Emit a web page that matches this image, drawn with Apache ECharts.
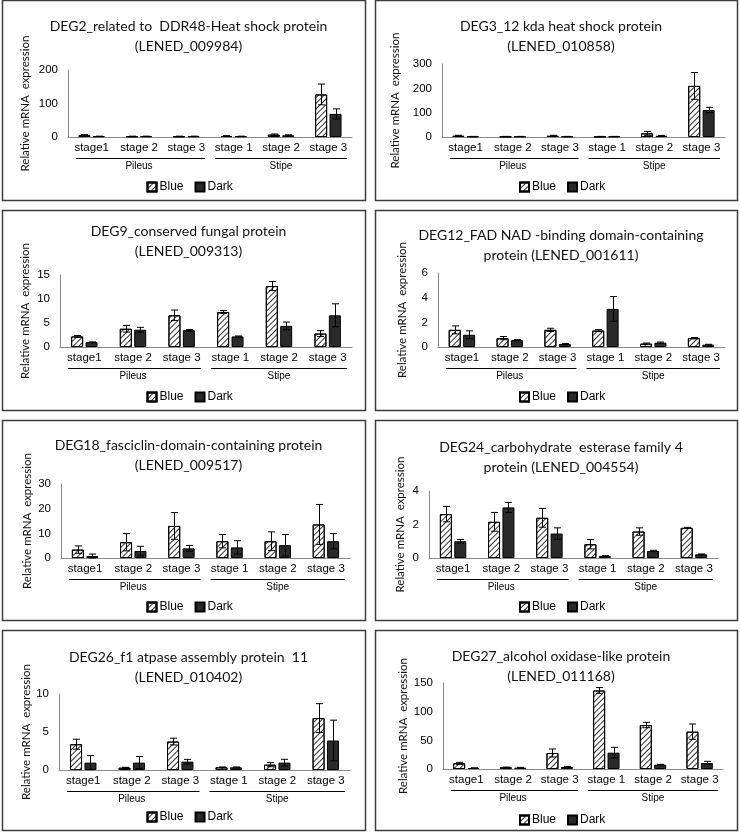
<!DOCTYPE html>
<html><head><meta charset="utf-8">
<script src="https://cdn.jsdelivr.net/npm/echarts@6/dist/echarts.min.js"></script>
<style>html,body{margin:0;padding:0;background:#fff}#c{width:740px;height:832px}</style>
</head><body><div id="c"></div>
<script>
// ---------- data ----------
const categories = ['stage1', 'stage 2', 'stage 3', 'stage 1', 'stage 2', 'stage 3'];
const groups = ['Pileus', 'Stipe'];
const seriesNames = ['Blue', 'Dark'];
const yLabel = 'Relative mRNA  expression';

const titles = [
  ['DEG2_related to  DDR48-Heat shock protein', '(LENED_009984)'],
  ['DEG3_12 kda heat shock protein', '(LENED_010858)'],
  ['DEG9_conserved fungal protein', '(LENED_009313)'],
  ['DEG12_FAD NAD -binding domain-containing', 'protein (LENED_001611)'],
  ['DEG18_fasciclin-domain-containing protein', '(LENED_009517)'],
  ['DEG24_carbohydrate  esterase family 4', 'protein (LENED_004554)'],
  ['DEG26_f1 atpase assembly protein  11', '(LENED_010402)'],
  ['DEG27_alcohol oxidase-like protein', '(LENED_011168)']
];
const yMax = [200, 300, 15, 6, 30, 4, 10, 150];
const yInterval = [100, 100, 5, 2, 10, 2, 5, 50];

const deg2Blue = [5, 2, 2, 3, 7, 127];
const deg2BlueErr = [2, 0.5, 0.5, 1, 2, 31];
const deg2Dark = [2, 2, 2, 2, 5, 69];
const deg2DarkErr = [0.5, 0.5, 0.5, 0.5, 1.5, 15];

const deg3Blue = [5, 2, 5, 2, 15, 210];
const deg3BlueErr = [2, 0.5, 2, 0.5, 8, 55];
const deg3Dark = [2, 2, 2, 2, 5, 111];
const deg3DarkErr = [0.5, 0.5, 0.5, 0.5, 1.5, 11];

const deg9Blue = [2.2, 3.8, 6.6, 7.3, 12.7, 2.8];
const deg9BlueErr = [0.2, 0.7, 1.1, 0.3, 0.95, 0.6];
const deg9Dark = [1.0, 3.6, 3.5, 2.2, 4.4, 6.6];
const deg9DarkErr = [0.05, 0.5, 0.15, 0.1, 0.8, 2.4];

const deg12Blue = [1.39, 0.72, 1.39, 1.33, 0.27, 0.72];
const deg12BlueErr = [0.32, 0.13, 0.13, 0.08, 0.05, 0.05];
const deg12Dark = [0.99, 0.56, 0.24, 3.09, 0.35, 0.19];
const deg12DarkErr = [0.32, 0.05, 0.05, 1.0, 0.05, 0.03];

const deg18Blue = [3.4, 6.4, 13.0, 6.8, 6.8, 13.6];
const deg18BlueErr = [1.5, 3.5, 5.4, 2.7, 3.8, 8.1];
const deg18Dark = [0.8, 2.85, 3.9, 4.3, 5.2, 6.8];
const deg18DarkErr = [0.8, 1.9, 1.2, 2.7, 4.3, 3.1];

const deg24Blue = [2.62, 2.16, 2.4, 0.82, 1.58, 1.8];
const deg24BlueErr = [0.46, 0.56, 0.56, 0.28, 0.22, 0.03];
const deg24Dark = [1.0, 3.02, 1.46, 0.12, 0.42, 0.22];
const deg24DarkErr = [0.1, 0.3, 0.34, 0.02, 0.04, 0.02];

const deg26Blue = [3.39, 0.3, 3.74, 0.35, 0.7, 6.83];
const deg26BlueErr = [0.66, 0.05, 0.44, 0.05, 0.27, 1.9];
const deg26Dark = [0.97, 0.97, 1.1, 0.35, 0.97, 3.88];
const deg26DarkErr = [0.92, 0.8, 0.3, 0.05, 0.44, 2.68];

const deg27Blue = [9.9, 2.9, 27.9, 137, 76.7, 65.1];
const deg27BlueErr = [1.7, 0.5, 7, 5, 4.7, 13.4];
const deg27Dark = [1.7, 2.3, 3.5, 28.5, 7.6, 10.5];
const deg27DarkErr = [0.3, 0.5, 1, 9.3, 0.5, 2.9];

const panelData = [
  [deg2Blue, deg2BlueErr, deg2Dark, deg2DarkErr],
  [deg3Blue, deg3BlueErr, deg3Dark, deg3DarkErr],
  [deg9Blue, deg9BlueErr, deg9Dark, deg9DarkErr],
  [deg12Blue, deg12BlueErr, deg12Dark, deg12DarkErr],
  [deg18Blue, deg18BlueErr, deg18Dark, deg18DarkErr],
  [deg24Blue, deg24BlueErr, deg24Dark, deg24DarkErr],
  [deg26Blue, deg26BlueErr, deg26Dark, deg26DarkErr],
  [deg27Blue, deg27BlueErr, deg27Dark, deg27DarkErr]
];

// ---------- layout (style only) ----------
const boxes = [
  [2, 0, 363, 200], [375, 0, 362, 200],
  [2, 210, 363, 200], [375, 210, 362, 200],
  [2, 420, 363, 200], [375, 420, 362, 200],
  [2, 630, 363, 200], [375, 630, 362, 200]
];
// [plotLeft, plotRight, yTop, yZero, titleLine1Y, yLabelX, legendY] relative to box
const lay = [
  [66, 350, 70, 137, 21, 23, 182],
  [67, 350, 64, 137, 21, 20, 182],
  [58, 350, 65, 137, 16, 23, 182],
  [63, 350, 63, 137, 20, 27, 182],
  [59, 348, 64, 138, 20, 25, 182],
  [54, 343, 71, 138, 22, 25, 182],
  [57, 348, 64, 140, 22, 25, 182],
  [68, 348, 53, 139, 21, 28, 185]
];

const BAR_W = 12, GAP = 2.4, CAP = 3.5;
const FONT = 'Liberation Sans, Arial, sans-serif';
const TFONT = 'Lato, Liberation Sans, sans-serif';

const hatch = {
  symbol: 'rect', symbolSize: 1, color: '#333',
  dashArrayX: [1, 0], dashArrayY: [0.9, 2.3], rotation: -Math.PI / 4
};

const option = {
  animation: false,
  backgroundColor: '#fff',
  title: [], legend: [], grid: [], xAxis: [], yAxis: [], series: []
};

function errSeries(i, vals, errs, off) {
  return {
    type: 'custom', xAxisIndex: 2 * i, yAxisIndex: i, silent: true, z: 5,
    encode: { x: 0, y: 1 },
    data: vals.map((v, k) => [k, v, errs[k]]),
    renderItem(params, api) {
      const k = api.value(0), v = api.value(1), e = api.value(2);
      const t = api.coord([k, v + e]), b = api.coord([k, v - e]);
      const x = Math.round(t[0] + off) + 0.5;
      const st = { stroke: '#000', lineWidth: 1 };
      return { type: 'group', children: [
        { type: 'line', shape: { x1: x, y1: t[1], x2: x, y2: b[1] }, style: st },
        { type: 'line', shape: { x1: x - CAP, y1: t[1], x2: x + CAP, y2: t[1] }, style: st },
        { type: 'line', shape: { x1: x - CAP, y1: b[1], x2: x + CAP, y2: b[1] }, style: st }
      ]};
    }
  };
}

for (let i = 0; i < 8; i++) {
  const [bx, by, bw, bh] = boxes[i];
  const [pl, pr, yt, yz, ty, ylx, ly] = lay[i];
  option.title.push({
    text: titles[i].join('\n'), left: bx + bw / 2, top: by + ty - 10, textAlign: 'center',
    textStyle: { fontFamily: TFONT, fontSize: 14, fontWeight: 'normal', color: '#111', lineHeight: 20 }
  });
  option.legend.push({
    data: seriesNames, left: bx + bw / 2 - 42, top: by + ly - 6, itemWidth: 9, itemHeight: 9, itemGap: 11,
    icon: 'rect', selectedMode: false,
    textStyle: { fontFamily: FONT, fontSize: 12, color: '#000', padding: [0, 0, 0, -2] }
  });
  option.grid.push({ left: bx + pl, top: by + yt, width: pr - pl, height: yz - yt });
  option.xAxis.push({
    type: 'category', gridIndex: i, data: categories,
    axisLine: { lineStyle: { color: '#8a8a8a', width: 1 } }, axisTick: { show: false },
    axisLabel: { fontFamily: 'Liberation Sans Narrow, Arial Narrow, ' + FONT, fontSize: 11.5, color: '#000', margin: 5, interval: 0 }
  });
  option.xAxis.push({
    type: 'category', gridIndex: i, data: groups, position: 'bottom',
    axisLine: { show: false }, axisTick: { show: false },
    axisLabel: { fontFamily: FONT, fontSize: 10, color: '#000', margin: 24 }
  });
  option.yAxis.push({
    type: 'value', gridIndex: i, min: 0, max: yMax[i], interval: yInterval[i],
    name: yLabel, nameLocation: 'middle', nameGap: pl - ylx - 6,
    nameTextStyle: { fontFamily: TFONT, fontSize: 11.5, color: '#111' },
    axisLine: { show: true, lineStyle: { color: '#8a8a8a', width: 1 } }, axisTick: { show: false },
    splitLine: { show: false },
    axisLabel: { fontFamily: FONT, fontSize: 11.5, color: '#000', margin: 10 }
  });
  const [bv, be, dv, de] = panelData[i];
  option.series.push({
    name: 'Blue', type: 'bar', xAxisIndex: 2 * i, yAxisIndex: i, data: bv,
    barWidth: BAR_W, barGap: (GAP / BAR_W * 100) + '%',
    itemStyle: { color: '#fff', borderColor: '#000', borderWidth: 1, decal: hatch }
  });
  option.series.push({
    name: 'Dark', type: 'bar', xAxisIndex: 2 * i, yAxisIndex: i, data: dv,
    barWidth: BAR_W, barGap: (GAP / BAR_W * 100) + '%',
    itemStyle: { color: '#2a2a2a', borderColor: '#000', borderWidth: 1 }
  });
  const off = BAR_W / 2 + GAP / 2;
  option.series.push(errSeries(i, bv, be, -off));
  option.series.push(errSeries(i, dv, de, off));
}

const chart = echarts.init(document.getElementById('c'), null, { renderer: 'canvas' });
chart.setOption(option);

// panel borders and group underlines
const graphics = [];
for (let i = 0; i < 8; i++) {
  const [bx, by, bw, bh] = boxes[i];
  const yz = lay[i][3];
  graphics.push({ type: 'rect', shape: { x: bx + 0.5, y: by + 0.5, width: bw, height: bh },
    style: { fill: 'none', stroke: '#3c3c3c', lineWidth: 1.5 }, silent: true });
  const c0 = chart.convertToPixel({ gridIndex: i }, [0, 0]);
  const c1 = chart.convertToPixel({ gridIndex: i }, [1, 0]);
  const c2 = chart.convertToPixel({ gridIndex: i }, [2, 0]);
  const c3 = chart.convertToPixel({ gridIndex: i }, [3, 0]);
  const c5 = chart.convertToPixel({ gridIndex: i }, [5, 0]);
  const bwd = c1[0] - c0[0];
  const ly = Math.round(by + yz + 21) + 0.5;
  const ins = 5;
  graphics.push({ type: 'line', shape: { x1: c0[0] - bwd / 2 + ins + 3, y1: ly, x2: c2[0] + bwd / 2 - ins, y2: ly },
    style: { stroke: '#000', lineWidth: 1 }, silent: true });
  graphics.push({ type: 'line', shape: { x1: c3[0] - bwd / 2 + ins, y1: ly, x2: c5[0] + bwd / 2 - ins, y2: ly },
    style: { stroke: '#000', lineWidth: 1 }, silent: true });
}
chart.setOption({ graphic: graphics });
</script>
</body></html>
